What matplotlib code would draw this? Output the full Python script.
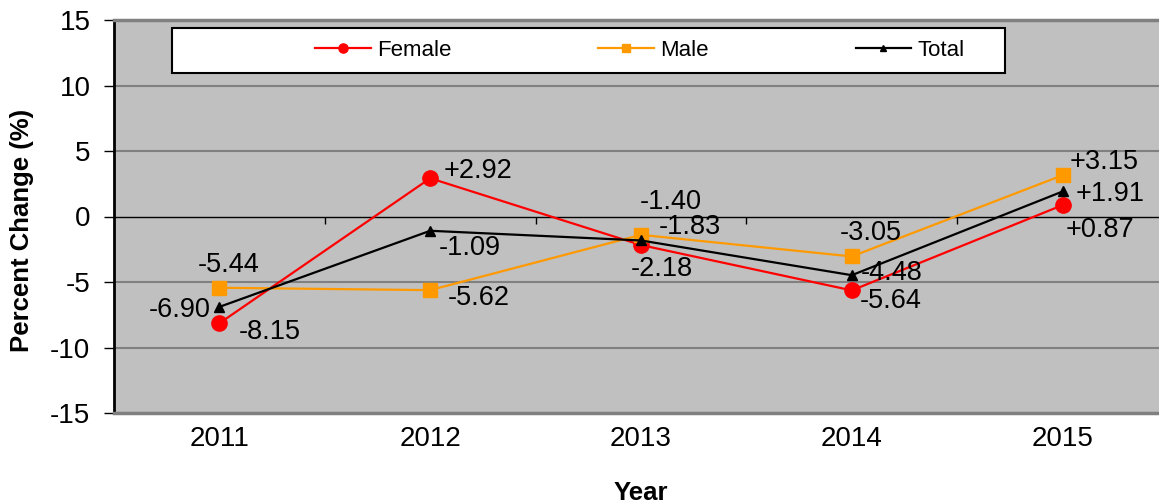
import matplotlib.pyplot as plt
from matplotlib.patches import Rectangle

plt.rcParams['font.family'] = ['Liberation Sans', 'DejaVu Sans']
plt.rcParams['axes.unicode_minus'] = False

# Data
years = ['2011', '2012', '2013', '2014', '2015']
female = [-8.15, 2.92, -2.18, -5.64, 0.87]
male = [-5.44, -5.62, -1.40, -3.05, 3.15]
total = [-6.90, -1.09, -1.83, -4.48, 1.91]

# label offsets in pixels (dx, dy, ha) for each point
female_off = [(19, -9, 'left'), (13, 7, 'left'), (-10, -24, 'left'), (8, -11, 'left'), (3, -25, 'left')]
male_off = [(-22, 23, 'left'), (18, -8, 'left'), (-1, 33, 'left'), (-12, 23, 'left'), (7, 13, 'left')]
total_off = [(-9, -3, 'right'), (9, -17, 'left'), (18, 13, 'left'), (9, 2, 'left'), (13, -3, 'left')]

fig = plt.figure(figsize=(11.59, 5.04), dpi=100)
ax = fig.add_axes([114 / 1159, 91 / 504, 1054 / 1159, 393 / 504])
ax.set_facecolor('#C0C0C0')

x = list(range(len(years)))

# grid lines
for yv in [10, 5, -5, -10]:
    ax.axhline(yv, color='#808080', linewidth=1.5, zorder=1)
ax.axhline(0, color='black', linewidth=1, zorder=1)
# category ticks on the zero line
ax.vlines([i + 0.5 for i in x[:-1]], -0.55, 0, color='black', linewidth=1, zorder=1)

ax.plot(x, female, color='#FF0000', marker='o', markersize=11, linewidth=1.6, label='Female', zorder=3)
ax.plot(x, male, color='#FF9900', marker='s', markersize=10, linewidth=1.6, label='Male', zorder=3)
ax.plot(x, total, color='black', marker='^', markersize=7, linewidth=1.6, label='Total', zorder=4)

for vals, offs in [(female, female_off), (male, male_off), (total, total_off)]:
    for i, v in enumerate(vals):
        dx, dy, ha = offs[i]
        ax.annotate(f'{v:+.2f}', (i, v), xytext=(dx, dy), textcoords='offset pixels',
                    ha=ha, va='center', fontsize=19.5, zorder=5)

ax.set_xlim(-0.5, 4.5)
ax.set_ylim(-15, 15)
ax.set_yticks([-15, -10, -5, 0, 5, 10, 15])
ax.set_xticks(x)
ax.set_xticklabels(years)
ax.tick_params(axis='y', labelsize=20, length=7, width=1, direction='out', pad=10)
ax.tick_params(axis='x', labelsize=20, length=0, pad=9)

for s in ['top', 'bottom', 'right']:
    ax.spines[s].set_color('#808080')
    ax.spines[s].set_linewidth(2.5)
ax.spines['left'].set_color('black')
ax.spines['left'].set_linewidth(2)

fig.text(22 / 1159, 1 - 230 / 504, 'Percent Change (%)', rotation=90, ha='center', va='center',
         fontsize=18.5, fontweight='bold')
ax.set_xlabel('Year', fontsize=18.5, fontweight='bold', labelpad=21)

# legend box
box = Rectangle((172 / 1159, 1 - 73 / 504), 833 / 1159, 45 / 504, transform=fig.transFigure,
                facecolor='white', edgecolor='black', linewidth=1.5, zorder=6, clip_on=False)
ax.add_patch(box)
leg = ax.legend(loc='center', bbox_to_anchor=(640 / 1159, 1 - 50.5 / 504),
                bbox_transform=fig.transFigure, ncol=3, frameon=False, markerscale=0.6,
                fontsize=16, handlelength=2.5, handletextpad=0.3, columnspacing=6.6)
leg.set_zorder(7)

fig.savefig('out.png', dpi=100)
